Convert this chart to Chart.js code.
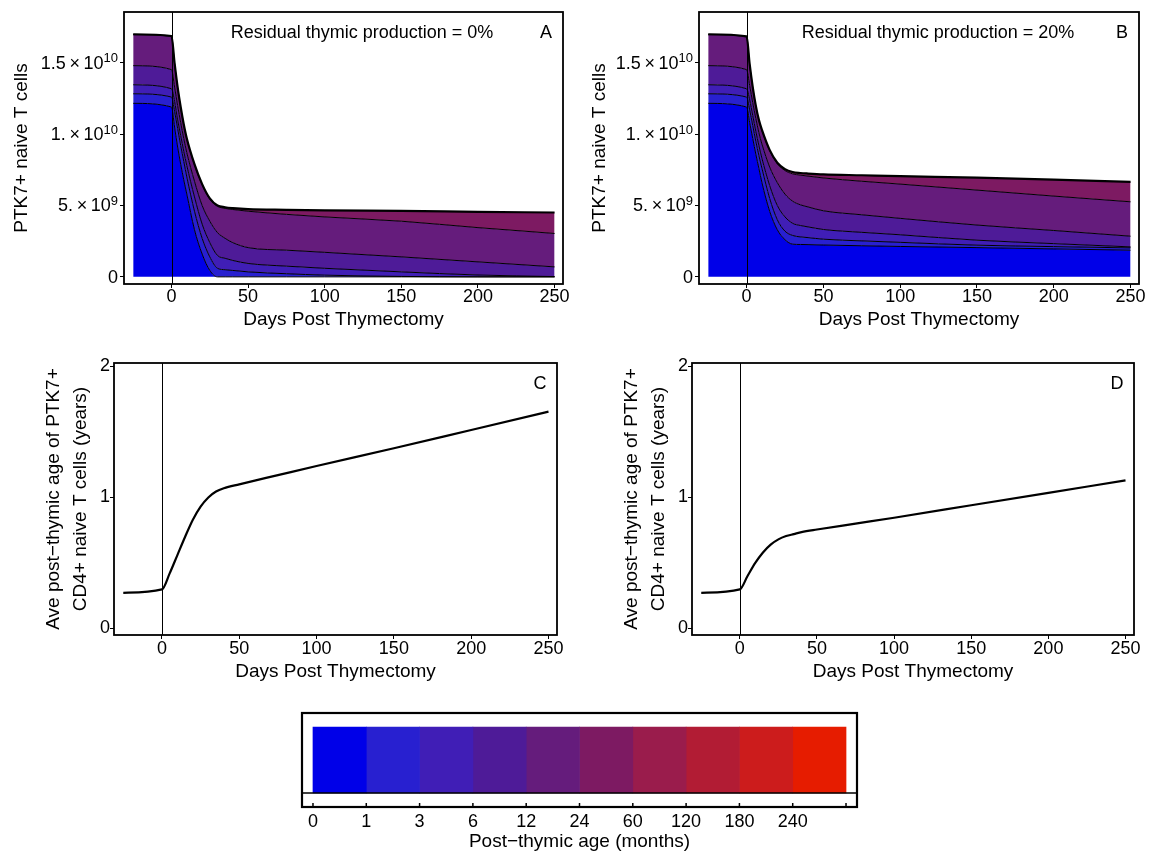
<!DOCTYPE html>
<html>
<head>
<meta charset="utf-8">
<script src="https://cdn.jsdelivr.net/npm/chart.js@4.4.0/dist/chart.umd.min.js"></script>
<style>
body { margin: 0; background: #fff; }
#page { position: relative; width: 1156px; height: 857px; overflow: hidden; }
canvas { position: absolute; }
</style>
</head>
<body>
<div id="page">
<canvas id="chartA" width="578" height="340" style="left:0px;top:0px"></canvas>
<canvas id="chartB" width="578" height="340" style="left:578px;top:0px"></canvas>
<canvas id="chartC" width="578" height="340" style="left:0px;top:350px"></canvas>
<canvas id="chartD" width="578" height="340" style="left:578px;top:350px"></canvas>
<canvas id="colorBar" width="580" height="157" style="left:290px;top:700px"></canvas>
</div>
<script>
//main.js

// Data (cell numbers in units of 1e9)
let days = [-25, 0, 2, 4, 6, 8, 10, 15, 20, 25, 30, 35, 40, 50, 75, 100, 150, 200, 250]

// Panel A, residual thymic production 0% (cumulative boundaries, bottom to top)
let zeroBlue  = [12.16, 11.9, 10.5, 9.1, 7.9, 6.8, 5.8, 3.3, 1.6, 0.45, 0, 0, 0, 0, 0, 0, 0, 0, 0]
let zeroLine2 = [12.83, 12.6, 11.6, 10.4, 9.2, 8.1, 7.0, 4.6, 2.7, 1.4, 0.6, 0.5, 0.45, 0.35, 0.22, 0.12, 0.03, 0, 0]
let zeroLine3 = [13.46, 13.18, 12.3, 11.0, 9.9, 8.8, 7.8, 5.6, 3.7, 2.4, 1.5, 1.3, 1.15, 0.94, 0.75, 0.6, 0.35, 0.13, 0.02]
let zeroLine4 = [14.8, 14.52, 13.3, 12.0, 10.8, 9.7, 8.7, 6.7, 5.0, 3.9, 3.1, 2.7, 2.4, 2.05, 1.87, 1.72, 1.4, 1.05, 0.7]
let zeroLine5 = [16.97, 16.85, 14.95, 13.25, 11.85, 10.65, 9.65, 7.85, 6.45, 5.45, 4.95, 4.8, 4.72, 4.6, 4.38, 4.2, 3.9, 3.45, 3.04]
let zeroTop   = [17.0, 16.88, 15.0, 13.3, 11.9, 10.7, 9.7, 7.9, 6.5, 5.5, 5.0, 4.88, 4.82, 4.75, 4.7, 4.66, 4.62, 4.56, 4.51]

// Panel B, residual thymic production 20%
let twentyBlue  = [12.16, 11.9, 10.8, 9.7, 8.6, 7.6, 6.6, 4.6, 3.3, 2.6, 2.29, 2.27, 2.26, 2.23, 2.18, 2.13, 2.05, 1.96, 1.87]
let twentyLine2 = [12.83, 12.6, 11.7, 10.6, 9.5, 8.5, 7.6, 5.5, 4.0, 3.2, 2.9, 2.8, 2.75, 2.64, 2.52, 2.42, 2.22, 2.12, 2.03]
let twentyLine3 = [13.46, 13.18, 12.4, 11.3, 10.2, 9.2, 8.3, 6.4, 5.0, 4.2, 3.75, 3.6, 3.5, 3.32, 3.12, 2.95, 2.57, 2.33, 2.1]
let twentyLine4 = [14.8, 14.52, 13.4, 12.2, 11.1, 10.1, 9.3, 7.7, 6.6, 5.8, 5.3, 5.05, 4.9, 4.63, 4.35, 4.1, 3.63, 3.25, 2.85]
let twentyLine5 = [16.97, 16.82, 14.85, 13.25, 11.95, 10.95, 10.25, 8.85, 7.93, 7.45, 7.22, 7.13, 7.06, 6.93, 6.7, 6.5, 6.08, 5.66, 5.26]
let twentyTop   = [17.0, 16.85, 14.9, 13.3, 12.0, 11.0, 10.3, 8.9, 8.0, 7.55, 7.35, 7.28, 7.24, 7.18, 7.12, 7.06, 6.95, 6.82, 6.66]

// Panels C and D, average post-thymic age (years)
let ageDays   = [-25, 0, 5, 10, 15, 20, 25, 30, 35, 40, 50, 75, 100, 150, 200, 250]
let ageZero   = [0.272, 0.298, 0.42, 0.56, 0.70, 0.83, 0.93, 1.0, 1.045, 1.07, 1.10, 1.17, 1.24, 1.375, 1.515, 1.655]
let ageTwenty = [0.272, 0.298, 0.40, 0.50, 0.58, 0.64, 0.68, 0.705, 0.72, 0.735, 0.755, 0.80, 0.845, 0.94, 1.035, 1.13]

// Ticks
let dayTicks = [0, 50, 100, 150, 200, 250]
let cellTicks = [0, 5, 10, 15]
let cellTickBase = ['0', '5.\u2009\u00d7\u200910', '1.\u2009\u00d7\u200910', '1.5\u2009\u00d7\u200910']
let cellTickExp = ['', '9', '10', '10']
let ageTicks = [0, 1, 2]

// Colour legend (post-thymic age classes, months)
let ageClassLabels = ['0', '1', '3', '6', '12', '24', '60', '120', '180', '240', '']
let ageClassColors = ['#0000e8', '#2820d0', '#401eb6', '#4e1b98', '#651c7c', '#7d1a62', '#9a1c4c', '#b21c34', '#cc1c1c', '#e61c00']

///////////////////////////////////////

const FONT = '"Liberation Sans", Arial, sans-serif'
const tickFont = { family: FONT, size: 18, lineHeight: 1 }
const titleFont = { family: FONT, size: 19 }

function toPoints(xs, ys) {
    return xs.map(function(x, i) { return { x: x, y: ys[i] } })
}

// Frame, zero line, y labels with exponents and panel annotations
const framePlugin = {
    id: 'frame',
    afterDraw(chart, args, opts) {
        const ctx = chart.ctx
        const a = chart.chartArea
        ctx.save()
        ctx.strokeStyle = '#000'
        let x0 = Math.round(chart.scales.x.getPixelForValue(0)) + 0.5
        ctx.lineWidth = 1
        ctx.beginPath()
        ctx.moveTo(x0, a.top)
        ctx.lineTo(x0, a.bottom)
        ctx.stroke()
        ctx.lineWidth = 1.8
        ctx.strokeRect(a.left, a.top, a.right - a.left, a.bottom - a.top)
        ctx.fillStyle = '#000'
        ctx.textAlign = 'center'
        ctx.textBaseline = 'middle'
        ctx.font = '18px ' + FONT
        if (opts.note) ctx.fillText(opts.note, opts.noteX, a.top + 21)
        ctx.fillText(opts.letter, a.right - 17, a.top + 21)

        // y tick labels like 1.5x10^10
        if (opts.expLabels) {
            let xr = a.left - 6
            ctx.textAlign = 'right'
            cellTicks.forEach(function(v, i) {
                let y = chart.scales.y.getPixelForValue(v)
                ctx.font = '13px ' + FONT
                ctx.textBaseline = 'alphabetic'
                let ew = ctx.measureText(cellTickExp[i]).width
                ctx.fillText(cellTickExp[i], xr, y - 0.5)
                ctx.font = '18px ' + FONT
                ctx.textBaseline = 'middle'
                ctx.fillText(cellTickBase[i], xr - ew, y + 1)
            })
        }
        ctx.restore()
    }
}

function baseScales(area, w, h, xTickPad, xTitlePad) {
    return {
        x: {
            type: 'linear', min: -31, max: 255.5,
            afterBuildTicks: function(s) { s.ticks = dayTicks.map(function(v) { return { value: v } }) },
            ticks: { font: tickFont, color: '#000', padding: xTickPad, maxRotation: 0 },
            grid: { drawOnChartArea: false, drawTicks: true, tickLength: 4, color: '#000' },
            border: { display: false },
            title: { display: true, text: 'Days Post Thymectomy', font: titleFont, color: '#000', padding: { top: 0, bottom: xTitlePad } },
            afterFit: function(s) { s.height = h - area.bottom }
        },
        y: {
            type: 'linear',
            ticks: { font: tickFont, color: '#000', padding: 0 },
            grid: { drawOnChartArea: false, drawTicks: true, tickLength: 4, color: '#000' },
            border: { display: false },
            afterFit: function(s) { s.width = area.left }
        }
    }
}

function cellChart(id, lines, note, letter, area) {
    let w = 578, h = 340
    let datasets = lines.map(function(arr, i) {
        return {
            data: toPoints(days, arr),
            backgroundColor: ageClassColors[i],
            borderColor: '#000',
            borderWidth: i == lines.length - 1 ? 2.2 : 1,
            fill: i == 0 ? 'origin' : '-1',
            pointRadius: 0,
            cubicInterpolationMode: 'monotone'
        }
    })
    let scales = baseScales(area, w, h, 0, 8.6)
    scales.y.min = -0.5
    scales.y.max = 18.56
    scales.y.afterBuildTicks = function(s) { s.ticks = cellTicks.map(function(v) { return { value: v } }) }
    scales.y.ticks.display = false
    scales.y.title = { display: true, text: 'PTK7+ naive T cells', font: titleFont, color: '#000', padding: { top: 10 } }

    return new Chart(document.getElementById(id), {
        type: 'line',
        data: { datasets: datasets },
        options: {
            responsive: false, animation: false, devicePixelRatio: 1,
            layout: { padding: { left: 0, top: area.top, right: w - area.right, bottom: 0 } },
            scales: scales,
            plugins: {
                legend: { display: false }, tooltip: { enabled: false },
                filler: { drawTime: 'beforeDatasetsDraw' },
                frame: { note: note, noteX: area.noteX, letter: letter, expLabels: true }
            }
        },
        plugins: [framePlugin]
    })
}

function ageChart(id, values, letter, area) {
    let w = 578, h = 340
    let scales = baseScales(area, w, h, 1, 6.9)
    scales.y.min = -0.05
    scales.y.max = 2.026
    scales.y.afterBuildTicks = function(s) { s.ticks = ageTicks.map(function(v) { return { value: v } }) }
    scales.y.title = {
        display: true, text: ['Ave post\u2212thymic age of PTK7+', 'CD4+ naive T cells (years)'],
        font: { family: FONT, size: 19, lineHeight: 1.45 }, color: '#000', padding: { top: 39.7 }
    }

    return new Chart(document.getElementById(id), {
        type: 'line',
        data: { datasets: [{
            data: toPoints(ageDays, values),
            borderColor: '#000', borderWidth: 2.2, pointRadius: 0,
            fill: false, cubicInterpolationMode: 'monotone'
        }] },
        options: {
            responsive: false, animation: false, devicePixelRatio: 1,
            layout: { padding: { left: 0, top: area.top, right: w - area.right, bottom: 0 } },
            scales: scales,
            plugins: { legend: { display: false }, tooltip: { enabled: false }, frame: { letter: letter } }
        },
        plugins: [framePlugin]
    })
}

cellChart('chartA', [zeroBlue, zeroLine2, zeroLine3, zeroLine4, zeroLine5, zeroTop],
    'Residual thymic production = 0%', 'A', { left: 124, top: 12, right: 563, bottom: 284, noteX: 362 })
cellChart('chartB', [twentyBlue, twentyLine2, twentyLine3, twentyLine4, twentyLine5, twentyTop],
    'Residual thymic production = 20%', 'B', { left: 121, top: 12, right: 561, bottom: 284, noteX: 360 })
ageChart('chartC', ageZero, 'C', { left: 114, top: 13, right: 557, bottom: 285 })
ageChart('chartD', ageTwenty, 'D', { left: 114, top: 13, right: 556, bottom: 285 })

// Colour legend box
const legendBoxPlugin = {
    id: 'legendBox',
    afterDraw(chart) {
        const ctx = chart.ctx
        const a = chart.chartArea
        let yc = chart.scales.y.getPixelForValue(0)
        ctx.save()
        ctx.strokeStyle = '#000'
        ctx.lineWidth = 1.5
        ctx.beginPath()
        ctx.moveTo(a.left, yc + 33)
        ctx.lineTo(a.right, yc + 33)
        chart.scales.x.ticks.forEach(function(t) {
            let x = chart.scales.x.getPixelForValue(t.value)
            ctx.moveTo(x, a.bottom)
            ctx.lineTo(x, a.bottom - 4)
        })
        ctx.stroke()
        ctx.lineWidth = 2.2
        ctx.strokeRect(a.left, a.top, a.right - a.left, a.bottom - a.top)
        ctx.restore()
    }
}

new Chart(document.getElementById('colorBar'), {
    type: 'bar',
    data: {
        labels: [''],
        datasets: ageClassColors.map(function(c, i) {
            return { data: [[i, i + 1]], backgroundColor: c, barThickness: 66, grouped: false }
        })
    },
    options: {
        indexAxis: 'y',
        responsive: false, animation: false, devicePixelRatio: 1,
        layout: { padding: { left: 12, top: 13, right: 13, bottom: 0 } },
        scales: {
            x: {
                type: 'linear', min: -0.206, max: 10.206,
                afterBuildTicks: function(s) { s.ticks = ageClassLabels.map(function(l, i) { return { value: i } }) },
                ticks: { font: tickFont, color: '#000', padding: 6, maxRotation: 0,
                    callback: function(v) { return ageClassLabels[v] } },
                grid: { display: false, drawTicks: false },
                border: { display: false },
                title: { display: true, text: 'Post\u2212thymic age (months)', font: titleFont, color: '#000', padding: { top: 0, bottom: 3.6 } },
                afterFit: function(s) { s.height = 50 }
            },
            y: { display: false }
        },
        plugins: { legend: { display: false }, tooltip: { enabled: false } }
    },
    plugins: [legendBoxPlugin]
})
</script>
</body>
</html>
